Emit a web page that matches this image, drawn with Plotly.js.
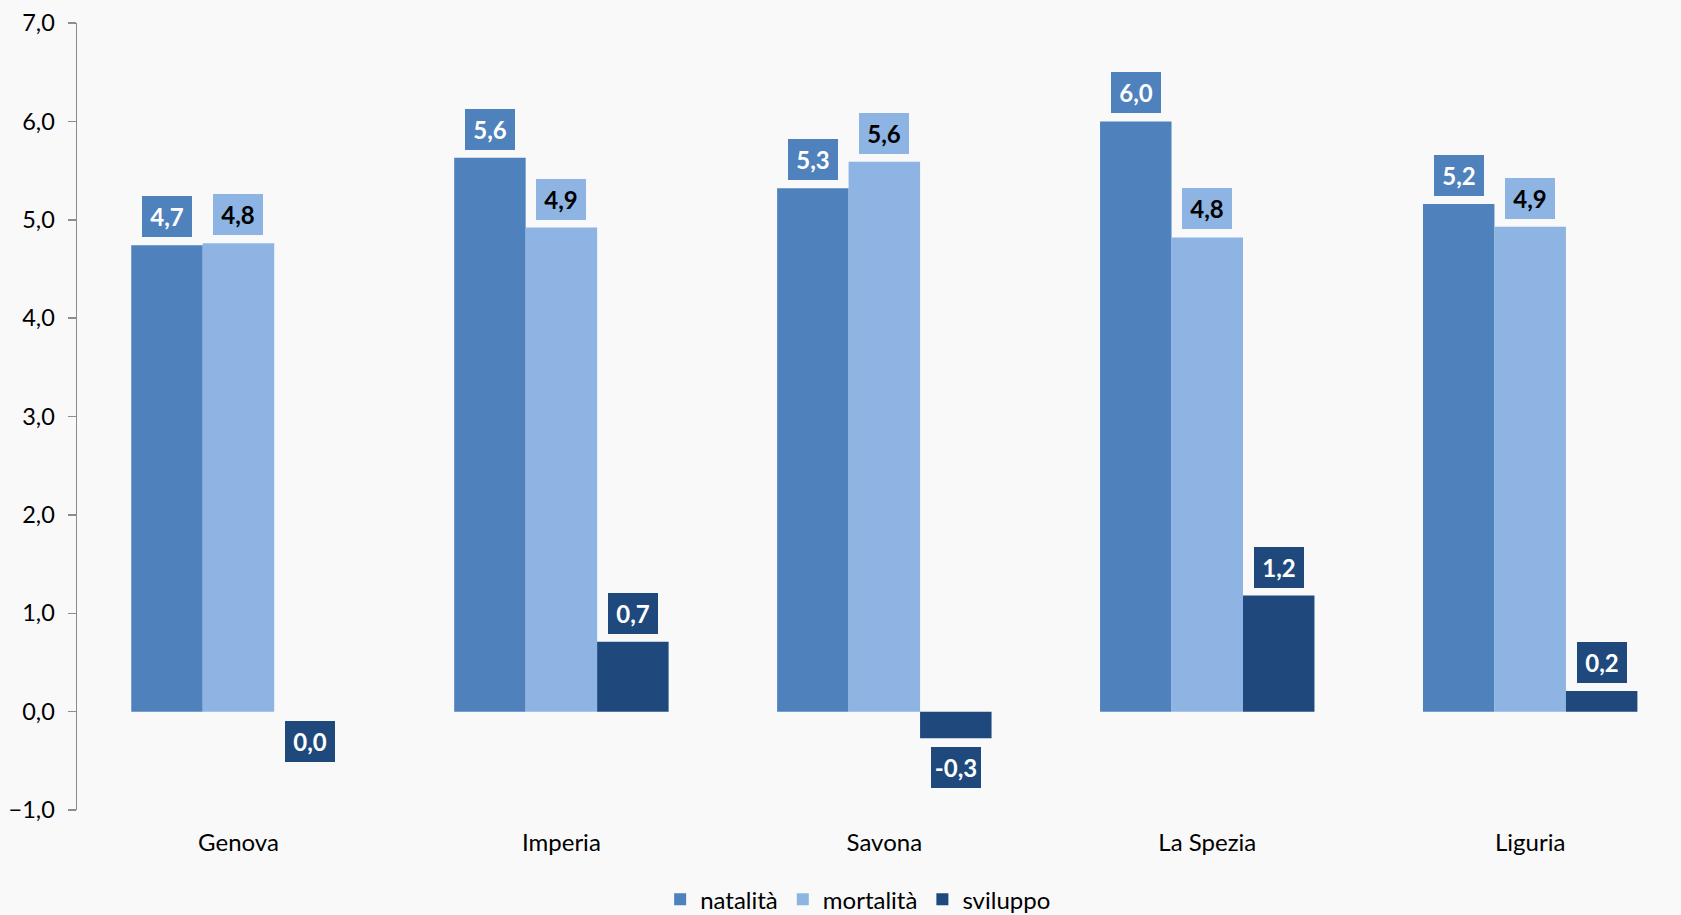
<!DOCTYPE html>
<html>
<head>
<meta charset="utf-8">
<script src="https://cdn.plot.ly/plotly-3.0.1.min.js"></script>
<style>html,body{margin:0;padding:0;background:#f9f9f9;}#chart{width:1681px;height:915px;}</style>
</head>
<body>
<div id="chart"></div>
<script>
const categories = ["Genova", "Imperia", "Savona", "La Spezia", "Liguria"];
const natalita  = [4.74, 5.63, 5.32, 6.00, 5.16];
const mortalita = [4.76, 4.92, 5.59, 4.82, 4.93];
const sviluppo  = [0.00, 0.71, -0.27, 1.18, 0.21];
const seriesNames = ["natalità", "mortalità", "sviluppo"];

const colors = ["#4F81BD", "#8DB4E2", "#1F497D"];
const labelFont = ["#ffffff", "#000000", "#ffffff"];
const series = [natalita, mortalita, sviluppo];
const FONT = "Lato, 'Open Sans', sans-serif";

const traces = series.map((vals, k) => ({
  type: "bar",
  name: seriesNames[k],
  x: categories,
  y: vals,
  marker: {color: colors[k], line: {width: 0}},
  hoverinfo: "skip"
}));

const bargap = 0.336;
const bw = (1 - bargap) / 3;
const fmt = v => v.toFixed(1).replace(".", ",").replace(/^-0,0$/, "0,0");
const annotations = [];
series.forEach((vals, k) => {
  vals.forEach((v, i) => {
    const below = v <= 0;
    annotations.push({
      xref: "x", yref: "y",
      x: i + (k - 1) * bw, y: v,
      text: "<b>" + fmt(v) + "</b>",
      showarrow: false,
      xanchor: "center",
      yanchor: below ? "top" : "bottom",
      yshift: below ? -9 : 8,
      bgcolor: colors[k],
      borderpad: 0, borderwidth: 0,
      width: 50, height: 41,
      valign: "middle", align: "center",
      font: {family: FONT, size: 24, color: labelFont[k]}
    });
  });
});

const layout = {
  width: 1681, height: 915,
  paper_bgcolor: "#f9f9f9",
  plot_bgcolor: "#f9f9f9",
  margin: {l: 77, r: 0, t: 23, b: 105, autoexpand: false},
  separators: ",.",
  barmode: "group",
  bargap: bargap,
  bargroupgap: 0,
  showlegend: true,
  legend: {
    orientation: "h", x: 0.487, xanchor: "center", y: -0.114, yanchor: "middle",
    font: {family: FONT, size: 24, color: "#000"},
    bgcolor: "rgba(0,0,0,0)", traceorder: "normal"
  },
  xaxis: {
    type: "category",
    range: [-0.5, 4.467],
    automargin: false,
    showline: false, showgrid: false, zeroline: false,
    ticks: "outside", ticklen: 11, tickcolor: "rgba(0,0,0,0)",
    tickfont: {family: FONT, size: 24, color: "#000"},
    fixedrange: true
  },
  xaxis2: {
    overlaying: "x", anchor: "free", position: 0.125,
    range: [-0.5, 4.467],
    automargin: false,
    tickvals: [0.5, 1.5, 2.5, 3.5],
    showticklabels: false,
    showline: true, linecolor: "#8c8c8c", linewidth: 1.5,
    ticks: "outside", ticklen: 8, tickcolor: "#8c8c8c", tickwidth: 1.5,
    showgrid: false, zeroline: false
  },
  yaxis: {
    range: [-1, 7], dtick: 1, tick0: 0,
    tickformat: ".1f",
    automargin: false,
    showline: true, linecolor: "#8c8c8c", linewidth: 1.5,
    ticks: "outside", ticklen: 8, tickcolor: "#8c8c8c", tickwidth: 1.5,
    showgrid: false, zeroline: false,
    ticklabelstandoff: 8,
    tickfont: {family: FONT, size: 23.5, color: "#000"}
  },
  annotations: annotations
};

Plotly.newPlot("chart", traces, layout, {displayModeBar: false, staticPlot: true});
</script>
</body>
</html>
